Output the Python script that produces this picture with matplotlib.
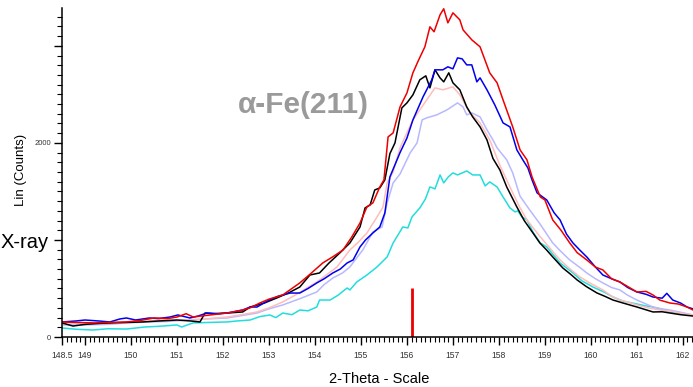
import matplotlib
matplotlib.use("Agg")
import matplotlib.pyplot as plt
from matplotlib.ticker import MultipleLocator, FixedLocator, FuncFormatter

plt.rcParams['font.family'] = ['Liberation Sans', 'DejaVu Sans']

red_x = [148.5, 148.8, 149.2, 149.5, 149.9, 150.2, 150.5, 150.8, 151.0, 151.2, 151.35, 151.5, 151.72, 152.09,
         152.43, 152.59, 152.8, 153.0, 153.3, 153.67, 153.9, 154.17, 154.4, 154.61, 154.8, 154.98, 155.13, 155.26,
         155.41, 155.5, 155.59, 155.7, 155.85, 156.0, 156.13, 156.25, 156.39, 156.5, 156.59, 156.72, 156.8, 156.89,
         157.0, 157.15, 157.22, 157.41, 157.59, 157.8, 157.96, 158.09, 158.3, 158.46, 158.61, 158.72, 158.9, 159.0,
         159.17, 159.35, 159.54, 159.7, 159.91, 160.1, 160.26, 160.45, 160.63, 160.8, 161.0, 161.2, 161.35, 161.5,
         161.72, 161.9, 162.09, 162.22]
red_y = [155, 150, 145, 150, 155, 170, 196, 190, 206, 240, 206, 215, 227, 247,
         278, 300, 350, 390, 433, 557, 650, 763, 830, 897, 1030, 1175, 1340, 1382,
         1546, 1619, 2062, 2103, 2371, 2515, 2722, 2850, 2990, 3196, 3145, 3320, 3382, 3237,
         3340, 3268, 3165, 3062, 2990, 2722, 2619, 2443, 2165, 1928, 1825, 1650, 1443, 1412,
         1206, 1100, 969, 870, 794, 720, 691, 600, 567, 520, 464, 470, 433, 380,
         350, 340, 309, 278]

blue_x = [148.5, 148.8, 149.0, 149.3, 149.54, 149.76, 149.9, 150.1, 150.4, 150.6, 150.85, 151.02, 151.28, 151.45,
          151.65, 151.9, 152.09, 152.43, 152.59, 152.74, 153.0, 153.2, 153.46, 153.67, 153.85, 154.04, 154.2, 154.39,
          154.55, 154.7, 154.83, 154.98, 155.1, 155.26, 155.41, 155.52, 155.63, 155.85, 156.0, 156.13, 156.35, 156.54,
          156.61, 156.78, 156.89, 157.0, 157.1, 157.2, 157.3, 157.41, 157.52, 157.59, 157.74, 157.91, 158.09, 158.24,
          158.39, 158.52, 158.63, 158.72, 158.83, 159.04, 159.2, 159.33, 159.47, 159.61, 159.75, 159.91, 160.1, 160.26,
          160.45, 160.63, 160.8, 161.0, 161.2, 161.35, 161.55, 161.65, 161.78, 161.95, 162.09, 162.22]
blue_y = [155, 165, 175, 165, 155, 186, 196, 175, 196, 190, 206, 227, 196, 215,
          247, 240, 247, 278, 309, 309, 380, 420, 453, 453, 500, 557, 600, 660,
          700, 763, 794, 928, 1000, 1072, 1134, 1278, 1650, 1900, 2050, 2237, 2474, 2650,
          2753, 2753, 2784, 2763, 2876, 2866, 2804, 2804, 2629, 2670, 2547, 2392, 2206, 2165,
          1928, 1825, 1742, 1619, 1485, 1412, 1280, 1206, 1060, 969, 900, 825, 720, 639,
          600, 567, 510, 464, 440, 412, 400, 450, 381, 350, 309, 290]

black_x = [148.5, 148.74, 149.0, 149.3, 149.54, 149.9, 150.26, 150.6, 151.0, 151.3, 151.5, 151.61, 151.8, 152.09,
           152.43, 152.59, 152.9, 153.17, 153.45, 153.67, 153.89, 154.1, 154.3, 154.54, 154.76, 154.98, 155.09, 155.2,
           155.3, 155.41, 155.52, 155.63, 155.74, 155.89, 156.0, 156.13, 156.28, 156.41, 156.5, 156.61, 156.72, 156.8,
           156.91, 157.0, 157.15, 157.3, 157.43, 157.59, 157.74, 157.87, 158.02, 158.17, 158.39, 158.55, 158.74, 158.89,
           159.03, 159.17, 159.39, 159.55, 159.7, 159.9, 160.13, 160.3, 160.48, 160.7, 161.0, 161.2, 161.35, 161.55,
           161.72, 161.95, 162.22]
black_y = [145, 113, 130, 140, 145, 150, 155, 165, 175, 165, 155, 247, 240, 247,
           258, 309, 350, 402, 460, 515, 639, 660, 760, 866, 969, 1134, 1330, 1361,
           1515, 1536, 1619, 1890, 2000, 2361, 2412, 2495, 2650, 2691, 2567, 2753, 2670, 2629,
           2722, 2619, 2547, 2371, 2268, 2165, 2031, 1840, 1722, 1546, 1340, 1200, 1072, 969,
           900, 825, 711, 650, 588, 520, 454, 420, 381, 350, 309, 280, 258, 260,
           247, 230, 216]

pink_x = [148.5, 149.0, 149.5, 149.9, 150.3, 150.63, 151.0, 151.4, 151.7, 152.09, 152.4, 152.74, 153.0, 153.3,
          153.6, 154.04, 154.25, 154.48, 154.76, 154.95, 155.13, 155.35, 155.48, 155.57, 155.7, 155.85, 156.13, 156.43,
          156.61, 156.78, 157.0, 157.15, 157.37, 157.59, 157.8, 158.02, 158.3, 158.46, 158.61, 158.9, 159.1, 159.33,
          159.55, 159.76, 160.0, 160.26, 160.45, 160.63, 160.8, 161.0, 161.25, 161.5, 161.8, 162.0, 162.22]
pink_y = [145, 145, 140, 150, 160, 175, 170, 175, 190, 206, 230, 258, 300, 361,
          440, 567, 640, 722, 897, 980, 1072, 1237, 1340, 1588, 1700, 1950, 2237, 2443,
          2567, 2547, 2578, 2495, 2309, 2206, 2031, 1770, 1485, 1330, 1206, 1031, 920, 794,
          700, 619, 550, 485, 420, 381, 360, 330, 300, 278, 260, 240, 227]

lav_x = [148.5, 149.0, 149.5, 149.9, 150.4, 150.8, 151.2, 151.6, 152.09, 152.4, 152.74, 153.0, 153.3, 153.7,
         154.04, 154.2, 154.39, 154.6, 154.76, 155.04, 155.26, 155.46, 155.57, 155.7, 155.85, 156.07, 156.22, 156.33,
         156.43, 156.65, 156.87, 157.1, 157.22, 157.3, 157.41, 157.59, 157.74, 157.87, 157.96, 158.17, 158.3, 158.46,
         158.67, 158.9, 159.17, 159.35, 159.54, 159.75, 159.91, 160.1, 160.26, 160.45, 160.63, 160.8, 161.0, 161.2,
         161.35, 161.55, 161.72, 162.0, 162.22]
lav_y = [124, 124, 130, 145, 155, 160, 175, 185, 196, 220, 247, 290, 330, 400,
         464, 540, 608, 660, 722, 897, 1082, 1134, 1382, 1588, 1680, 1897, 2000, 2237,
         2258, 2289, 2340, 2412, 2371, 2289, 2309, 2268, 2134, 2031, 1949, 1825, 1691, 1450,
         1309, 1160, 969, 880, 794, 720, 660, 600, 557, 510, 485, 430, 381, 340,
         309, 290, 278, 250, 227]

cyan_x = [148.5, 148.8, 149.17, 149.5, 149.9, 150.3, 150.6, 151.0, 151.1, 151.35, 151.7, 152.09, 152.3, 152.59,
          152.8, 153.02, 153.15, 153.3, 153.5, 153.67, 153.85, 154.04, 154.1, 154.33, 154.5, 154.7, 154.76, 154.91,
          155.13, 155.35, 155.57, 155.7, 155.78, 155.91, 156.02, 156.11, 156.28, 156.4, 156.5, 156.61, 156.72, 156.8,
          156.9, 157.0, 157.1, 157.2, 157.3, 157.43, 157.59, 157.7, 157.8, 157.96, 158.09, 158.24, 158.35, 158.41,
          158.5, 158.61, 158.74, 158.9, 159.04, 159.33, 159.61, 159.8, 160.04, 160.3, 160.48, 160.7, 160.9, 161.2,
          161.35, 161.72, 162.0, 162.22]
cyan_y = [93, 80, 72, 85, 82, 103, 110, 124, 103, 145, 150, 155, 165, 175,
          210, 227, 200, 247, 230, 278, 270, 309, 381, 381, 430, 505, 485, 567,
          639, 722, 825, 969, 1031, 1134, 1124, 1237, 1330, 1420, 1546, 1526, 1670, 1588,
          1650, 1691, 1670, 1690, 1711, 1670, 1670, 1557, 1598, 1546, 1443, 1330, 1289, 1299,
          1237, 1206, 1082, 969, 928, 763, 660, 580, 516, 460, 412, 370, 350, 320,
          309, 258, 240, 227]

marker_x = 156.1
marker_h = 500
x_major = [148.5, 149, 150, 151, 152, 153, 154, 155, 156, 157, 158, 159, 160, 161, 162]
x_labels = ['148.5', '149', '150', '151', '152', '153', '154', '155', '156', '157', '158', '159', '160', '161', '162']
y_labeled = [0, 2000]

fig = plt.figure(figsize=(6.93, 3.87), dpi=100)
ax = fig.add_axes([62/693, 50/387, 1 - 62/693, (337-8)/387])

lw = 1.1
ax.plot(cyan_x, cyan_y, color='#22dddd', lw=lw)
ax.plot(lav_x, lav_y, color='#b8b8ff', lw=lw)
ax.plot(pink_x, pink_y, color='#ffbcbc', lw=lw)
ax.plot(black_x, black_y, color='black', lw=lw)
ax.plot(blue_x, blue_y, color='#0000ee', lw=lw)
ax.plot(red_x, red_y, color='#ee0000', lw=lw)
ax.vlines(marker_x, 0, marker_h, color='#ee0000', lw=2.0)

ax.set_xlim(148.5, 162.22)
ax.set_ylim(0, 3390)
for s in ['top', 'right']:
    ax.spines[s].set_visible(False)
for s in ['left', 'bottom']:
    ax.spines[s].set_linewidth(1.1)

ax.xaxis.set_major_locator(FixedLocator(x_major))
ax.set_xticklabels(x_labels)
ax.xaxis.set_minor_locator(MultipleLocator(0.1))
ax.yaxis.set_major_locator(MultipleLocator(1000))
ax.yaxis.set_minor_locator(MultipleLocator(100))
ax.yaxis.set_major_formatter(FuncFormatter(lambda v, p: str(int(v)) if int(round(v)) in y_labeled else ''))

ax.tick_params(axis='x', which='major', direction='out', length=6, width=1.0, labelsize=6.2, colors='black',
               labelcolor='#333333', pad=4)
ax.tick_params(axis='x', which='minor', direction='out', length=3.5, width=0.8)
ax.tick_params(axis='y', which='major', direction='out', length=6, width=1.0, labelsize=5.5, labelcolor='#333333', pad=2)
ax.tick_params(axis='y', which='minor', direction='out', length=3.5, width=0.8)

fig.text(379/693, 1 - 379/387, '2-Theta - Scale', ha='center', va='center', fontsize=10.5)
fig.text(21/693, 1 - 170/387, 'Lin (Counts)', ha='center', va='center', rotation=90, fontsize=9.5)
fig.text(1/693, 1 - 243/387, 'X-ray', ha='left', va='center', fontsize=14.5,
         bbox=dict(facecolor='white', edgecolor='none', pad=0))
fig.text(303/693, 1 - 105/387, 'α-Fe(211)', ha='center', va='center', fontsize=21.5, fontweight='bold',
         color='#9a9a9a')

fig.savefig('out.png', dpi=100)
